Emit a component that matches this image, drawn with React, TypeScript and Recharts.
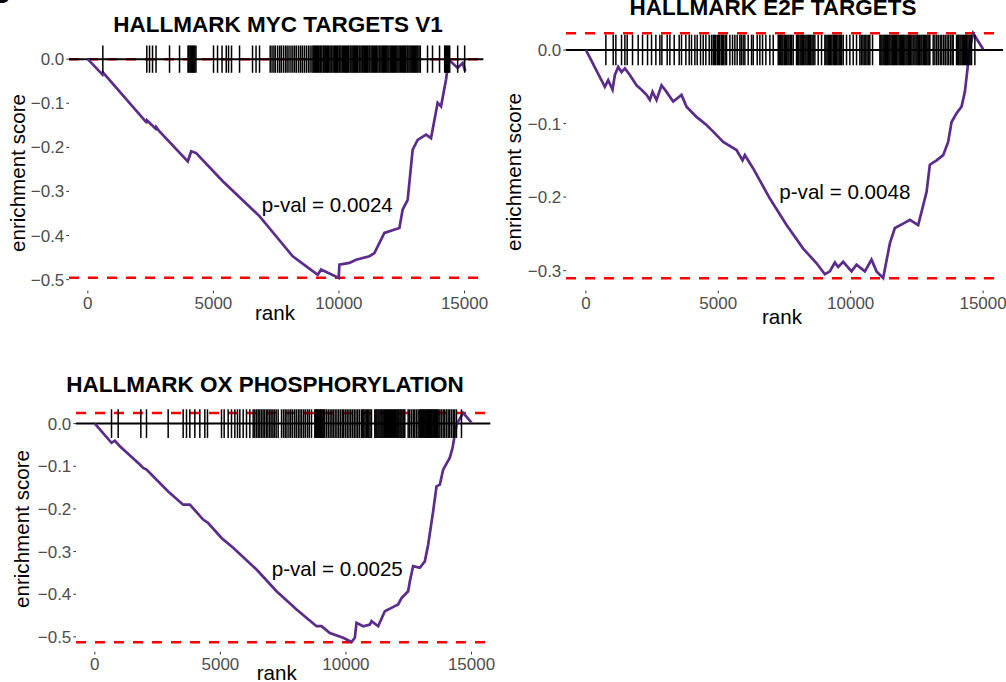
import React from "react";
import { ComposedChart, Line, XAxis, YAxis, ReferenceLine, Scatter, ErrorBar } from "recharts";

const FONT = '"Liberation Sans", Arial, Helvetica, sans-serif';
const PURPLE = "#5B2C8C";

const X_TICKS = [0, 5000, 10000, 15000];
const X_DOMAIN: [number, number] = [-750, 15750];

// ---------- HALLMARK MYC TARGETS V1 ----------
const mycRank = [0, 580, 600, 2324, 2345, 2360, 2700, 2720, 2854, 3980, 4115, 4314, 5373, 6834, 8159, 9154, 9289, 9990, 10018, 10416, 10682, 11212, 11411, 11809, 12406, 12537, 12736, 12935, 13134, 13468, 13667, 13930, 14065, 14264, 14368, 14726, 14925, 15032];
const mycES = [0, -0.035, -0.03, -0.143, -0.143, -0.139, -0.158, -0.154, -0.164, -0.232, -0.209, -0.213, -0.277, -0.356, -0.447, -0.489, -0.477, -0.496, -0.466, -0.462, -0.455, -0.447, -0.44, -0.394, -0.383, -0.341, -0.319, -0.205, -0.183, -0.171, -0.179, -0.099, -0.107, -0.046, -0.001, -0.02, -0.009, -0.028];
const mycHits = [597, 2349, 2457, 2576, 2716, 3253, 3651, 3990, 4020, 4065, 4100, 4140, 4175, 4215, 4260, 4305, 5005, 5165, 5344, 5511, 5603, 5722, 6041, 6558, 6698, 6837,
  7262, 7335, 7410, 7470, 7560, 7640, 7705, 7790, 7870, 7935, 8010, 8090, 8165, 8240, 8310, 8395, 8470, 8540, 8620, 8700, 8780, 8850, 8925,
  8975, 9015, 9060, 9110, 9145, 9190, 9240, 9275, 9320, 9375, 9410, 9455, 9510, 9545, 9590, 9640, 9685, 9720, 9770, 9825, 9860, 9905, 9950, 10000, 10035, 10080, 10130, 10170, 10215, 10260, 10310, 10345, 10390, 10445, 10480, 10525, 10575, 10610, 10660, 10700, 10745, 10800, 10835, 10880, 10930, 10965, 11010, 11060, 11100, 11145, 11195, 11230, 11280, 11325, 11365, 11415, 11460, 11500, 11550, 11600, 11635, 11680, 11730, 11770, 11815, 11860, 11905, 11950, 11990, 12040, 12085, 12125, 12170, 12220, 12260, 12305, 12350, 12395, 12440, 12480, 12530, 12575, 12615, 12660, 12710, 12745, 12790, 12835, 12875, 12920, 12965, 13010, 13055, 13100, 13140, 13190, 13240,
  13527, 13726, 14005, 14210, 14250, 14290, 14330, 14370, 14410, 14727, 15006];
const mycTop = 0;
const mycBottom = -0.496;
const mycHalf = 0.031;
const mycYTicks = [0, -0.1, -0.2, -0.3, -0.4, -0.5];
const mycYDomain: [number, number] = [-0.525, 0.057];

// ---------- HALLMARK E2F TARGETS ----------
const e2fRank = [0, 717, 843, 1007, 1095, 1221, 1347, 1473, 1661, 1913, 2102, 2291, 2417, 2517, 2668, 2857, 3046, 3297, 3612, 3801, 4179, 4556, 4808, 5185, 5690, 5916, 6004, 6318, 6948, 7578, 8206, 8712, 9025, 9213, 9402, 9528, 9716, 10031, 10220, 10535, 10787, 10976, 11226, 11479, 11668, 11982, 12234, 12548, 12675, 12865, 12989, 13243, 13492, 13681, 13809, 13998, 14187, 14311, 14413, 14473, 14625, 15003];
const e2fES = [0, -0.05, -0.041, -0.054, -0.034, -0.023, -0.03, -0.025, -0.034, -0.048, -0.054, -0.061, -0.068, -0.057, -0.068, -0.048, -0.057, -0.07, -0.061, -0.077, -0.091, -0.102, -0.111, -0.125, -0.136, -0.15, -0.143, -0.161, -0.202, -0.238, -0.27, -0.29, -0.305, -0.301, -0.289, -0.295, -0.288, -0.301, -0.292, -0.301, -0.285, -0.301, -0.31, -0.263, -0.242, -0.236, -0.231, -0.238, -0.22, -0.193, -0.156, -0.15, -0.143, -0.125, -0.098, -0.086, -0.077, -0.057, -0.025, -0.002, 0.0227, 0.001];
const e2fHits = [755, 1032, 1133, 1347, 1473, 1561, 1762, 1976, 2140, 2329, 2480, 2643, 2794, 2870, 3071, 3172, 3336, 3524, 3612, 3776, 3902, 3990, 4116, 4204, 4330, 4431, 4531, 4657, 4745,
  4808, 4850, 4900, 4960, 5010, 5050, 5110, 5150, 5200, 5260, 5312,
  5438, 5538, 5626, 5714, 5815, 5870, 5940, 6004, 6130, 6256, 6319, 6470, 6570, 6671, 6797, 6948, 7074,
  7263, 7305, 7350, 7400, 7440, 7490, 7530, 7580, 7630, 7670, 7720, 7770, 7829,
  7955, 7995, 8040, 8090, 8130, 8175, 8220, 8270, 8310, 8355, 8400, 8450, 8490, 8540, 8584,
  8647, 8773, 8899,
  9025, 9065, 9110, 9160, 9200, 9245, 9290, 9340, 9380, 9430, 9470, 9520, 9565, 9610, 9660, 9717,
  9843, 9969, 10095, 10221,
  10346, 10400, 10460, 10510, 10570, 10620, 10680, 10724, 10825,
  11102, 11140, 11180, 11225, 11265, 11310, 11350, 11395, 11440, 11480, 11525, 11570, 11610, 11650, 11700, 11740, 11785, 11830, 11870, 11915, 11960, 12000, 12045, 12090, 12130, 12175, 12220, 12260, 12310, 12360,
  12423, 12470, 12510, 12560, 12600, 12650, 12690, 12740, 12780, 12830, 12875, 12920, 12960, 12990,
  13116, 13180, 13250, 13310, 13380, 13440, 13510, 13570, 13640, 13700, 13770, 13830, 13871,
  13997, 14040, 14080, 14125, 14165, 14210, 14250, 14295, 14340, 14380, 14425, 14470, 14510, 14564, 14689];
const e2fTop = 0.0227;
const e2fBottom = -0.3104;
const e2fHalf = 0.0208;
const e2fYTicks = [0, -0.1, -0.2, -0.3];
const e2fYDomain: [number, number] = [-0.327, 0.0394];

// ---------- HALLMARK OX PHOSPHORYLATION ----------
const oxRank = [0, 664, 796, 996, 1792, 1925, 2058, 2920, 3517, 3783, 4313, 4512, 5045, 5507, 6439, 7235, 8032, 8828, 9027, 9358, 9888, 10222, 10353, 10420, 10686, 10951, 11018, 11282, 11548, 11946, 12078, 12213, 12476, 12543, 12675, 12942, 13141, 13273, 13471, 13607, 13738, 13870, 14136, 14244, 14403, 14666, 15000];
const oxES = [0, -0.045, -0.04, -0.053, -0.096, -0.104, -0.108, -0.159, -0.19, -0.19, -0.225, -0.233, -0.268, -0.291, -0.342, -0.393, -0.436, -0.475, -0.475, -0.491, -0.502, -0.512, -0.502, -0.467, -0.475, -0.471, -0.463, -0.475, -0.44, -0.428, -0.424, -0.409, -0.393, -0.37, -0.334, -0.338, -0.323, -0.284, -0.206, -0.147, -0.143, -0.108, -0.08, -0.057, -0.002, 0.025, 0.002];
const oxHits = [664, 929, 1832, 2057, 2920, 3517, 3650, 3783, 3982, 4181, 4380, 4486, 5044, 5150, 5309, 5442, 5575, 5681, 5774, 5907, 6039, 6172,
  6305, 6370, 6440, 6505, 6570,
  6637, 6700, 6760, 6830, 6890, 6960, 7020, 7090, 7150, 7220, 7300,
  7433, 7510, 7580, 7650, 7730, 7800, 7870, 7950, 8020, 8100, 8170, 8240, 8320, 8390, 8470, 8540, 8627,
  8760, 8795, 8830, 8870, 8905, 8940, 8980, 9015, 9050, 9090, 9125, 9158,
  9230, 9300, 9370, 9440, 9500, 9570, 9640, 9710, 9780, 9850, 9910, 9980, 10050, 10120, 10190, 10260, 10330, 10400, 10470, 10540, 10618,
  10660, 10710, 10760, 10810, 10860, 10910, 10960, 11017,
  11149, 11190, 11230, 11275, 11315, 11355, 11400, 11440, 11480, 11525, 11565, 11605, 11650, 11690, 11730, 11775, 11815, 11855, 11900, 11940, 11980, 12025, 12065, 12105, 12150, 12190, 12230, 12275, 12310, 12344,
  12477, 12540, 12610, 12680, 12740, 12810, 12875,
  12941, 12975, 13010, 13045, 13080, 13115, 13150, 13185, 13220, 13255, 13290, 13325, 13360, 13395, 13430, 13465, 13500, 13535, 13570, 13605, 13640, 13671,
  13738, 13800, 13870, 13930, 14000, 14070, 14130, 14200, 14270, 14330, 14401, 14600];
const oxTop = 0.0251;
const oxBottom = -0.5127;
const oxHalf = 0.0336;
const oxYTicks = [0, -0.1, -0.2, -0.3, -0.4, -0.5];
const oxYDomain: [number, number] = [-0.535, 0.06];

const fmtY = (v: number) => (v === 0 ? "0.0" : (v < 0 ? "\u2212" : "") + Math.abs(v).toFixed(1));

type PanelProps = {
  rank: number[];
  es: number[];
  hits: number[];
  top: number;
  bottom: number;
  half: number;
  yTicks: number[];
  yDomain: [number, number];
  zeroX: number;
  pxPerRank: number;
  zeroY: number;
  pxPerUnit: number;
};

function Panel(p: PanelProps) {
  const YAW = 60, XAH = 30, MT = 10, MR = 24;
  const plotLeft = p.zeroX + X_DOMAIN[0] * p.pxPerRank;
  const plotW = (X_DOMAIN[1] - X_DOMAIN[0]) * p.pxPerRank;
  const plotTop = p.zeroY - p.yDomain[1] * p.pxPerUnit;
  const plotH = (p.yDomain[1] - p.yDomain[0]) * p.pxPerUnit;
  const curve = p.rank.map((r, i) => ({ rank: r, y: p.es[i] }));
  const hits = p.hits.map((r) => ({ rank: r, y: 0, h: p.half }));
  const tickStyle = { fill: "#4D4D4D", fontSize: 17, fontFamily: FONT };
  return (
    <div style={{ position: "absolute", left: plotLeft - YAW, top: plotTop - MT }}>
      <ComposedChart
        width={YAW + plotW + MR}
        height={MT + plotH + XAH}
        margin={{ top: MT, right: MR, bottom: 0, left: 0 }}
      >
        <XAxis
          type="number"
          dataKey="rank"
          domain={X_DOMAIN}
          ticks={X_TICKS}
          interval={0}
          allowDataOverflow
          axisLine={false}
          tickLine={{ stroke: "#333333", strokeWidth: 1 }}
          tickSize={2.7}
          tickMargin={3.5}
          height={XAH}
          tick={tickStyle}
        />
        <YAxis
          type="number"
          domain={p.yDomain}
          ticks={p.yTicks}
          interval={0}
          allowDataOverflow
          axisLine={false}
          tickLine={{ stroke: "#333333", strokeWidth: 1 }}
          tickSize={2.7}
          tickMargin={2}
          width={YAW}
          tick={tickStyle}
          tickFormatter={fmtY}
        />
        <ReferenceLine y={p.top} stroke="#FF0000" strokeWidth={2.5} strokeDasharray="10 9" />
        <ReferenceLine y={p.bottom} stroke="#FF0000" strokeWidth={2.5} strokeDasharray="10 9" />
        <ReferenceLine y={0} stroke="#000000" strokeWidth={2} />
        <Line
          data={curve}
          dataKey="y"
          type="linear"
          stroke={PURPLE}
          strokeWidth={2.7}
          dot={false}
          activeDot={false}
          isAnimationActive={false}
        />
        <Scatter data={hits} dataKey="y" shape={() => <g />} isAnimationActive={false}>
          <ErrorBar dataKey="h" direction="y" width={0} stroke="#000000" strokeWidth={1.5} isAnimationActive={false} />
        </Scatter>
      </ComposedChart>
    </div>
  );
}

const titleStyle = { fontFamily: FONT, fontWeight: 700, fontSize: 22.5, fill: "#000" } as const;
const labelStyle = { fontFamily: FONT, fontSize: 20.6, fill: "#000" } as const;

export default function App() {
  return (
    <div style={{ position: "absolute", left: 0, top: 0, width: 1006, height: 682, overflow: "hidden", background: "#fff" }}>
      <Panel rank={mycRank} es={mycES} hits={mycHits} top={mycTop} bottom={mycBottom} half={mycHalf}
        yTicks={mycYTicks} yDomain={mycYDomain} zeroX={88.3} pxPerRank={1 / 39.82} zeroY={59.5} pxPerUnit={441} />
      <Panel rank={e2fRank} es={e2fES} hits={e2fHits} top={e2fTop} bottom={e2fBottom} half={e2fHalf}
        yTicks={e2fYTicks} yDomain={e2fYDomain} zeroX={586} pxPerRank={1 / 37.76} zeroY={50} pxPerUnit={735.6} />
      <Panel rank={oxRank} es={oxES} hits={oxHits} top={oxTop} bottom={oxBottom} half={oxHalf}
        yTicks={oxYTicks} yDomain={oxYDomain} zeroX={95} pxPerRank={1 / 39.82} zeroY={424} pxPerUnit={426.6} />
      <svg width={1006} height={682} style={{ position: "absolute", left: 0, top: 0, pointerEvents: "none" }}>
        <text x={10} y={3} textAnchor="end" style={{ fontFamily: FONT, fontWeight: 700, fontSize: 28, fill: "#000" }}>B</text>
        <text x={278} y={31.7} textAnchor="middle" style={titleStyle}>HALLMARK MYC TARGETS V1</text>
        <text x={773} y={15} textAnchor="middle" style={titleStyle}>HALLMARK E2F TARGETS</text>
        <text x={265} y={392} textAnchor="middle" style={titleStyle}>HALLMARK OX PHOSPHORYLATION</text>

        <text transform="translate(24.5,173) rotate(-90)" textAnchor="middle" style={labelStyle}>enrichment score</text>
        <text transform="translate(521,172) rotate(-90)" textAnchor="middle" style={labelStyle}>enrichment score</text>
        <text transform="translate(29,529) rotate(-90)" textAnchor="middle" style={labelStyle}>enrichment score</text>

        <text x={275} y={320} textAnchor="middle" style={labelStyle}>rank</text>
        <text x={782} y={323.5} textAnchor="middle" style={labelStyle}>rank</text>
        <text x={276.7} y={679.5} textAnchor="middle" style={labelStyle}>rank</text>

        <text x={261.7} y={211.7} style={labelStyle}>p-val = 0.0024</text>
        <text x={779.3} y={199} style={labelStyle}>p-val = 0.0048</text>
        <text x={271.7} y={575.7} style={labelStyle}>p-val = 0.0025</text>
      </svg>
    </div>
  );
}
